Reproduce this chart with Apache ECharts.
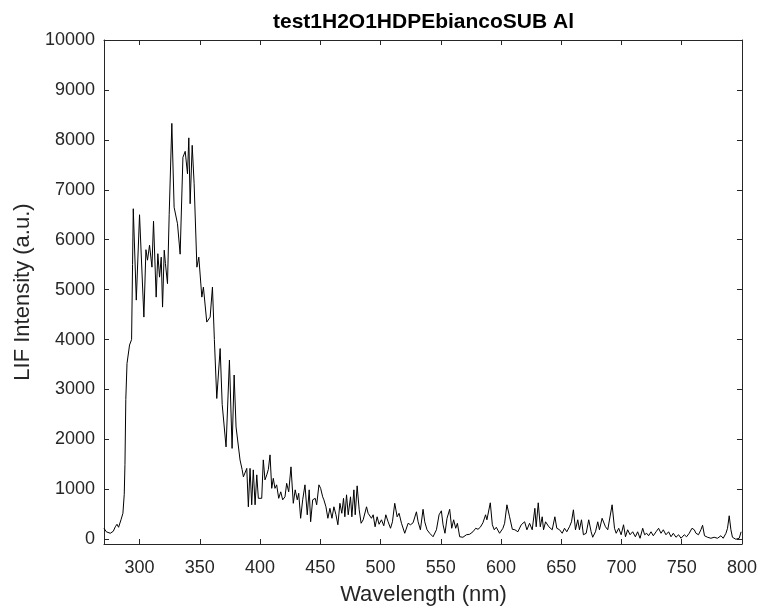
<!DOCTYPE html>
<html>
<head>
<meta charset="utf-8">
<script src="https://cdn.jsdelivr.net/npm/echarts@6/dist/echarts.min.js"></script>
<style>
html,body{margin:0;padding:0;background:#fff;}
#chart{width:760px;height:611px;}
</style>
</head>
<body>
<div id="chart"></div>
<script>
const titleText = 'test1H2O1HDPEbiancoSUB Al';
const xLabel = 'Wavelength (nm)';
const yLabel = 'LIF Intensity (a.u.)';
const xTicks = [300, 350, 400, 450, 500, 550, 600, 650, 700, 750, 800];
const yTicks = [0, 1000, 2000, 3000, 4000, 5000, 6000, 7000, 8000, 9000, 10000];

const wavelength = [
270.5,272.4,275.7,278.2,279.9,281.3,282.6,284.6,286.2,287.3,287.9,288.6,289.6,291.7,293.4,294.2,294.8,297.3,300,303.6,
305.3,306.6,308.3,309.7,310.3,311.6,313.8,315.2,316.6,318,319.1,320.5,321.5,323.2,324.6,326.8,328.7,331.5,333.7,336,
337.9,339.8,340.9,342,343.7,345.3,347.6,349.2,351.7,353,355.8,358.6,360.5,362.1,364.1,366.9,368.6,371.8,374.6,376.8,
378.5,380.1,381.2,383.4,385.1,386.2,387.6,389,390.3,391.7,393.1,394.4,395.9,397.3,398.6,401.4,402.7,404.1,405.6,406.9,
408.3,409.7,411,412.4,413.8,415.5,417.2,418.8,420.7,422.1,423.8,425.7,427.6,429.2,430.9,432.1,433.7,435.4,437.3,439.2,
440.8,442,443.7,445.8,447,448.9,450.3,452,453,454.7,456.3,458,459.7,461.3,463,464.6,466.3,467.9,469.3,470.4,
471.8,473.2,475.1,476.2,477.9,479,480.6,482.3,483.9,485.6,488.4,489.7,491.1,492.5,493.9,495.5,497.2,498.8,500.8,502.7,
504.4,506.3,508.3,509.9,511.8,513.8,515.4,517.4,520.1,522.9,524.9,527,529.8,531.2,533.1,535.3,536.7,538.6,540.8,543.6,
546.4,548.6,550.5,551.9,553.5,555.2,557.4,559.1,560.7,562.4,563.8,565.7,568.4,571.3,574,576.7,579,580.9,582.8,585,
587.2,588.3,591.1,592.8,594.4,596.1,598.8,601.6,603,604.9,607.1,609.4,611.5,614,616.8,619.6,621.5,623.7,625.9,628.1,
629.2,630.9,632.6,634.2,635.3,637,639.7,642.5,644.7,646.3,648.6,650.8,652.7,654.6,656.8,658.5,660.1,661.8,663.7,665.1,
666.8,668.4,670.7,672.8,674.8,676.1,678.4,680.3,681.7,683.9,685.3,686.7,688.6,690,692.2,694.2,695.6,697.7,699.7,701.7,
703.3,705.1,707.1,709.3,711.5,713.4,715.4,717.6,719.2,720.9,722.5,724.5,726.4,728.7,730.8,732.8,734.7,736.9,739.1,741.1,
743,745.2,747.4,749.4,752.1,754,756.2,758.5,760.4,761.8,763.9,765.9,767.3,768.9,771.4,774.2,776.9,779.7,782.5,784.4,
786.7,788,789.4,790.8,792.1,794.9,797.7,799.3
];

const intensity = [
220,150,120,160,250,300,240,390,520,900,1500,2800,3520,3890,4000,5500,6620,4790,6500,4450,
5800,5590,5890,5900,5450,6370,4850,5720,5250,5650,4650,5790,5520,5120,6500,8330,6650,6320,5710,7650,
7770,7320,8040,6720,7890,7120,5450,5650,4850,5050,4350,4450,5050,4000,2820,3820,2700,1850,3590,1820,
3290,2250,2270,1590,1400,1250,1290,1420,650,1420,690,1390,690,1290,820,820,1590,1190,1290,1400,
1690,1020,1220,1020,1090,820,950,790,850,1120,950,1450,720,990,790,920,420,790,1090,490,
990,350,790,820,690,1090,1020,850,790,650,420,620,420,650,490,290,720,520,820,450,
890,490,850,450,990,490,1070,590,320,390,650,520,550,420,490,250,450,300,390,270,
490,350,220,350,720,450,520,320,120,320,290,330,550,350,190,600,350,190,120,50,
190,490,570,290,120,420,600,220,390,220,320,50,40,90,100,150,220,200,240,330,
490,390,730,290,190,240,120,220,320,690,450,200,190,150,290,350,190,320,190,620,
250,730,250,450,190,350,250,190,450,220,190,120,220,150,250,350,590,190,390,190,
390,90,120,390,150,40,150,350,190,420,390,250,190,190,690,220,120,220,90,290,
50,190,90,150,50,150,20,220,90,120,70,150,70,150,220,120,190,90,150,50,
120,40,90,20,90,50,120,220,190,120,90,190,280,70,40,20,40,20,70,20,
120,220,470,190,40,0,20,150
];

const seriesData = wavelength.map((w, i) => [w, intensity[i]]);

const AX = '#262626';
const FONT = '"Liberation Sans", Arial, Helvetica, sans-serif';
const chart = echarts.init(document.getElementById('chart'), null, {renderer: 'canvas'});

const gridL = 104, gridR = 17, gridT = 40, gridB = 67;
const plotCx = gridL + (760 - gridL - gridR) / 2;
const plotCy = gridT + (611 - gridT - gridB) / 2;
const plain = v => String(Math.round(v));

chart.setOption({
  animation: false,
  backgroundColor: '#fff',
  grid: {left: gridL, right: gridR, top: gridT, bottom: gridB, containLabel: false},
  xAxis: [{
    type: 'value', min: 270.5, max: 800, position: 'bottom',
    axisLine: {show: true, onZero: false, lineStyle: {color: AX, width: 1}},
    axisTick: {show: true, inside: true, length: 5, customValues: xTicks, lineStyle: {color: AX}},
    axisLabel: {show: true, customValues: xTicks, formatter: plain, color: AX, fontSize: 18, fontFamily: FONT, margin: 15},
    splitLine: {show: false}
  }, {
    type: 'value', min: 270.5, max: 800, position: 'top',
    axisLine: {show: true, onZero: false, lineStyle: {color: AX, width: 1}},
    axisTick: {show: true, inside: true, length: 5, customValues: xTicks, lineStyle: {color: AX}},
    axisLabel: {show: false},
    splitLine: {show: false}
  }],
  yAxis: [{
    type: 'value', min: -95, max: 10000, position: 'left',
    axisLine: {show: true, onZero: false, lineStyle: {color: AX, width: 1}},
    axisTick: {show: true, inside: true, length: 5, customValues: yTicks, lineStyle: {color: AX}},
    axisLabel: {show: true, customValues: yTicks, formatter: plain, color: AX, fontSize: 18, fontFamily: FONT, margin: 9},
    splitLine: {show: false}
  }, {
    type: 'value', min: -95, max: 10000, position: 'right',
    axisLine: {show: true, onZero: false, lineStyle: {color: AX, width: 1}},
    axisTick: {show: true, inside: true, length: 5, customValues: yTicks, lineStyle: {color: AX}},
    axisLabel: {show: false},
    splitLine: {show: false}
  }],
  graphic: [
    {type: 'text', x: plotCx, y: 22, style: {text: titleText, fill: '#000', font: 'bold 21px ' + FONT, textAlign: 'center', textVerticalAlign: 'middle'}},
    {type: 'text', x: plotCx, y: 595, style: {text: xLabel, fill: AX, font: '22px ' + FONT, textAlign: 'center', textVerticalAlign: 'middle'}},
    {type: 'text', x: 23, y: plotCy, rotation: Math.PI / 2, style: {text: yLabel, fill: AX, font: '22px ' + FONT, textAlign: 'center', textVerticalAlign: 'middle'}}
  ],
  series: [{
    type: 'line', xAxisIndex: 0, yAxisIndex: 0,
    data: seriesData, showSymbol: false, symbol: 'none',
    lineStyle: {color: '#000', width: 1}, silent: true
  }]
});
</script>
</body>
</html>
